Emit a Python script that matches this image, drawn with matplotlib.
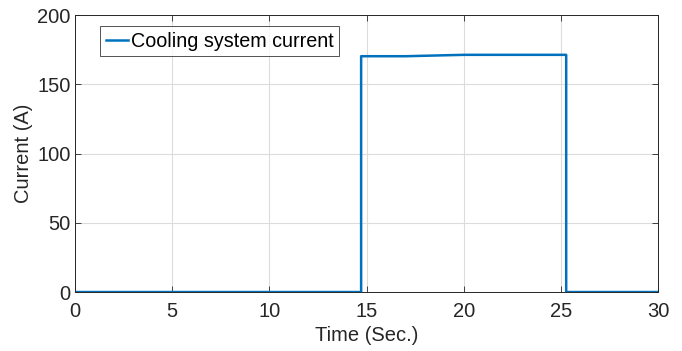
import matplotlib
matplotlib.use("Agg")
import matplotlib.pyplot as plt

plt.rcParams['font.family'] = ['Liberation Sans', 'DejaVu Sans']

# Cooling system current profile (time in seconds, current in amperes)
time_s = [0.0, 14.72, 14.72, 17.0, 20.0, 25.27, 25.27, 30.0]
current_a = [0.0, 0.0, 170.3, 170.3, 171.3, 171.3, 0.0, 0.0]

x_ticks = [0, 5, 10, 15, 20, 25, 30]
y_ticks = [0, 50, 100, 150, 200]

fig = plt.figure(figsize=(6.82, 3.51), dpi=100)
ax = fig.add_axes([0.110, 0.168, 0.855, 0.789])

ax.plot(time_s, current_a, color='#0072BD', linewidth=1.8,
        label='Cooling system current')

ax.set_xlim(0, 30)
ax.set_ylim(0, 200)
ax.set_xticks(x_ticks)
ax.set_yticks(y_ticks)
ax.grid(True, color='#dcdcdc', linewidth=0.8)
ax.set_axisbelow(True)
ax.tick_params(direction='in', top=True, right=True, labelsize=14.5,
               length=4, width=0.6, colors='#262626', pad=3)
ax.tick_params(axis='x', pad=7)
for s in ax.spines.values():
    s.set_color('#262626')
    s.set_linewidth(0.7)

ax.set_xlabel('Time (Sec.)', fontsize=14.5, color='#262626', labelpad=4)
ax.set_ylabel('Current (A)', fontsize=14.5, color='#262626', labelpad=3)

leg = ax.legend(loc='upper left', bbox_to_anchor=(0.043, 0.962), fontsize=14.2,
                frameon=True, fancybox=False, handlelength=1.1,
                handletextpad=0.15, borderpad=0.3, borderaxespad=0)
leg.get_frame().set_edgecolor('#262626')
leg.get_frame().set_linewidth(0.7)

fig.savefig('out.png', dpi=100)
